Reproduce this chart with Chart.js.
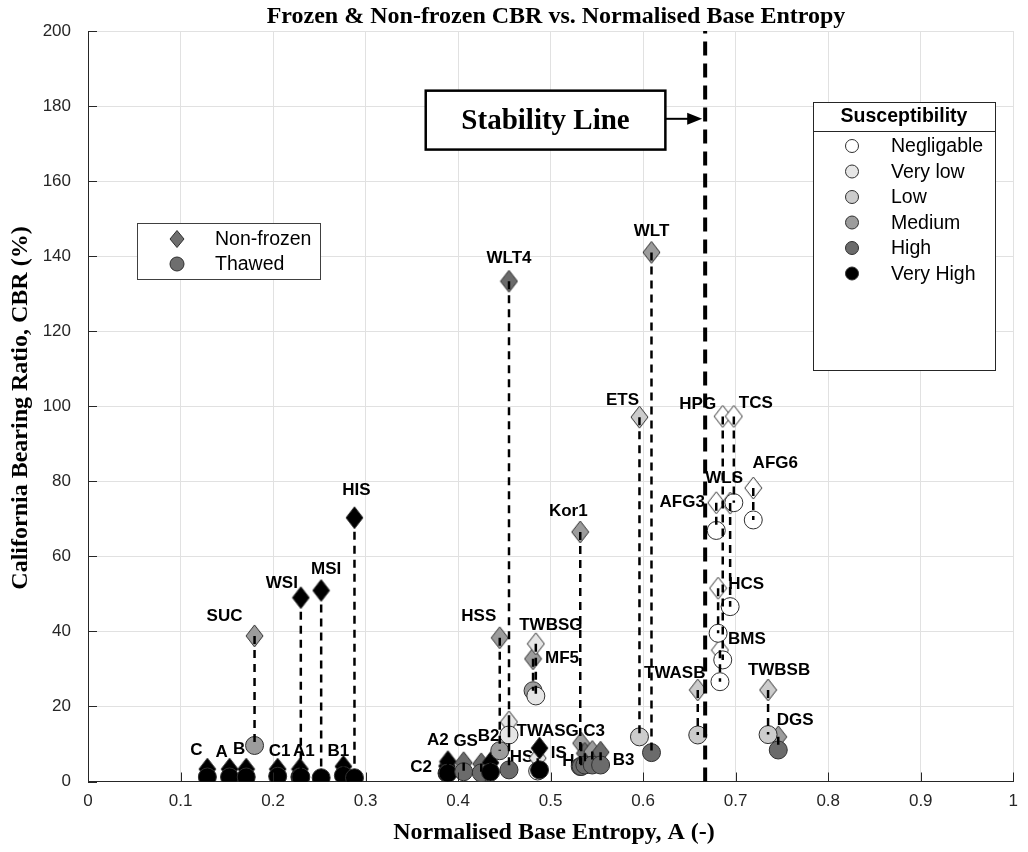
<!DOCTYPE html>
<html>
<head>
<meta charset="utf-8">
<title>Frozen & Non-frozen CBR vs. Normalised Base Entropy</title>
<script src="https://cdn.jsdelivr.net/npm/chart.js@4.4.0/dist/chart.umd.min.js"></script>
<style>
  html, body { margin: 0; padding: 0; background: #fff; }
  #wrap { width: 1028px; height: 852px; }
</style>
</head>
<body>
<div id="wrap"><canvas id="chart" width="1028" height="852"></canvas></div>
<script>
// sample names ("" = label hidden in the original)
const samples = ["C", "A", "B", "SUC", "C1", "A1", "WSI", "MSI", "B1", "HIS",
  "C2", "A2", "GS", "", "B2", "HSS", "", "WLT4", "MF5", "TWBSG", "TWASG", "HS",
  "Kor1", "C3", "IS", "H", "B3", "ETS", "WLT", "TWASB",
  "AFG3", "HCS", "BMS", "HPG", "WLS", "TCS", "AFG6", "TWBSB", "DGS"];
// normalised base entropy A (-)
const entropy = [0.129, 0.153, 0.171, 0.180, 0.205, 0.229, 0.230, 0.252, 0.276, 0.288,
  0.388, 0.389, 0.406, 0.425, 0.435, 0.445, 0.455, 0.455, 0.481, 0.484, 0.486, 0.488,
  0.532, 0.533, 0.537, 0.545, 0.554, 0.596, 0.609, 0.659,
  0.679, 0.681, 0.683, 0.686, 0.694, 0.698, 0.719, 0.735, 0.746];
// CBR (%) non-frozen (diamonds)
const cbrNonFrozen = [3.3, 3.3, 3.3, 38.8, 3.3, 3.3, 49.0, 50.9, 4.0, 70.3,
  4.1, 5.3, 5.0, 4.7, 5.0, 38.3, 15.9, 133.3, 32.7, 36.7, 6.2, 8.9,
  66.5, 10.2, 7.5, 8.0, 7.8, 97.1, 141.0, 24.4,
  74.3, 51.5, 35.0, 97.3, 74.2, 97.3, 78.2, 24.4, 11.9];
// CBR (%) thawed (circles)
const cbrThawed = [1.2, 1.2, 1.2, 9.6, 1.4, 1.2, 1.2, 1.0, 1.6, 1.0,
  2.2, 2.2, 2.6, 2.3, 2.5, 8.2, 12.4, 3.1, 24.2, 22.8, 2.8, 3.1,
  4.0, 4.0, 4.4, 4.4, 4.4, 11.9, 7.7, 12.4,
  66.9, 39.5, 26.6, 32.4, 46.6, 74.3, 69.7, 12.5, 8.4];
// susceptibility class: 0 Negligable .. 5 Very High
const classNonFrozen = [5, 5, 5, 3, 5, 5, 5, 5, 5, 5,
  5, 5, 4, 4, 5, 3, 1, 4, 3, 1, 1, 5,
  3, 3, 4, 3, 4, 2, 3, 2,
  0, 0, 0, 0, 0, 0, 0, 2, 3];
const classThawed = [5, 5, 5, 3, 5, 5, 5, 5, 5, 5,
  5, 5, 4, 4, 5, 3, 1, 4, 3, 1, 1, 5,
  4, 4, 4, 4, 4, 2, 4, 2,
  0, 0, 0, 0, 0, 0, 0, 2, 4];
const susceptibility = ["Negligable", "Very low", "Low", "Medium", "High", "Very High"];
const stabilityA = 0.667;

// text offsets (px) of each sample name from its diamond
const labelShift = [[-11, -19], [-8, -17], [-7, -20], [-30, -20], [2, -18], [4, -18], [-19, -14], [5, -21], [-5, -15], [2, -27],
  [-26, 1], [-10, -21], [2, -21], [0, 0], [-2, -26], [-21, -21], [0, 0], [0, -23], [29, 0], [15, -18], [10, -27], [-18, 9],
  [-12, -21], [13, -12], [-26, 0], [-24, 10], [23, 8], [-17, -17], [0, -21], [-23, -17],
  [-34, 0], [28, -4], [27, -11], [-25, -12], [-6, -25], [22, -13], [22, -25], [11, -20], [17, -17]];

const palette = ['#ffffff', '#e6e6e6', '#cccccc', '#9c9c9c', '#6b6b6b', '#000000'];
const edge = '#2f2f2f';
const sans = '"Liberation Sans", Arial, sans-serif';
const serif = '"Liberation Serif", "Times New Roman", serif';

function diamondImage(fill, w, h) {
  const c = document.createElement('canvas');
  c.width = w + 2;
  c.height = h + 2;
  const g = c.getContext('2d');
  g.beginPath();
  g.moveTo(c.width / 2, 1);
  g.lineTo(c.width - 1, c.height / 2);
  g.lineTo(c.width / 2, c.height - 1);
  g.lineTo(1, c.height / 2);
  g.closePath();
  g.fillStyle = fill;
  g.fill();
  g.lineWidth = 1;
  g.strokeStyle = edge;
  g.stroke();
  return c;
}
const diamonds = palette.map(p => diamondImage(p, 17, 22));

const diamondPts = samples.map((s, i) => ({ x: entropy[i], y: cbrNonFrozen[i] }));
const circlePts = samples.map((s, i) => ({ x: entropy[i], y: cbrThawed[i] }));
const connectorPts = [];
samples.forEach((s, i) => {
  connectorPts.push({ x: entropy[i], y: cbrNonFrozen[i] }, { x: entropy[i], y: cbrThawed[i] }, { x: entropy[i], y: null });
});

function drawDiamond(ctx, cx, cy, w, h, fill) {
  ctx.beginPath();
  ctx.moveTo(cx, cy - h / 2);
  ctx.lineTo(cx + w / 2, cy);
  ctx.lineTo(cx, cy + h / 2);
  ctx.lineTo(cx - w / 2, cy);
  ctx.closePath();
  ctx.fillStyle = fill;
  ctx.fill();
  ctx.strokeStyle = edge;
  ctx.lineWidth = 1;
  ctx.stroke();
}

function drawCircle(ctx, cx, cy, r, fill) {
  ctx.beginPath();
  ctx.arc(cx, cy, r, 0, Math.PI * 2);
  ctx.fillStyle = fill;
  ctx.fill();
  ctx.strokeStyle = edge;
  ctx.lineWidth = 1;
  ctx.stroke();
}

const sampleLabels = {
  id: 'sampleLabels',
  beforeDatasetsDraw(chart) {
    const { ctx, scales: { x, y } } = chart;
    ctx.save();
    ctx.font = 'bold 17px ' + sans;
    ctx.fillStyle = '#000';
    ctx.textAlign = 'center';
    ctx.textBaseline = 'middle';
    samples.forEach((s, i) => {
      if (!s) return;
      ctx.fillText(s, x.getPixelForValue(entropy[i]) + labelShift[i][0],
        y.getPixelForValue(cbrNonFrozen[i]) + labelShift[i][1]);
    });
    ctx.restore();
  }
};

const decorations = {
  id: 'decorations',
  afterDraw(chart) {
    const { ctx, chartArea: area, scales: { x, y } } = chart;
    ctx.save();

    // inward ticks
    ctx.strokeStyle = '#262626';
    ctx.lineWidth = 1;
    ctx.beginPath();
    x.ticks.forEach(t => {
      const px = Math.round(x.getPixelForValue(t.value)) + 0.5;
      ctx.moveTo(px, area.bottom);
      ctx.lineTo(px, area.bottom - 9);
    });
    y.ticks.forEach(t => {
      const py = Math.round(y.getPixelForValue(t.value)) + 0.5;
      ctx.moveTo(area.left, py);
      ctx.lineTo(area.left + 9, py);
    });
    ctx.stroke();

    // stability line callout
    const bx0 = x.getPixelForValue(0.365), bx1 = x.getPixelForValue(0.624);
    const by0 = y.getPixelForValue(184.1), by1 = y.getPixelForValue(168.4);
    ctx.fillStyle = '#fff';
    ctx.fillRect(bx0, by0, bx1 - bx0, by1 - by0);
    ctx.strokeStyle = '#000';
    ctx.lineWidth = 2.5;
    ctx.strokeRect(bx0, by0, bx1 - bx0, by1 - by0);
    ctx.fillStyle = '#000';
    ctx.font = 'bold 29px ' + serif;
    ctx.textAlign = 'center';
    ctx.textBaseline = 'middle';
    ctx.fillText('Stability Line', (bx0 + bx1) / 2, (by0 + by1) / 2 + 1);
    const ay = y.getPixelForValue(176.6);
    const tip = x.getPixelForValue(stabilityA) - 3;
    ctx.lineWidth = 2;
    ctx.beginPath();
    ctx.moveTo(bx1, ay);
    ctx.lineTo(tip - 12, ay);
    ctx.stroke();
    ctx.beginPath();
    ctx.moveTo(tip, ay);
    ctx.lineTo(tip - 15, ay - 6);
    ctx.lineTo(tip - 15, ay + 6);
    ctx.closePath();
    ctx.fill();

    // marker-type legend
    ctx.fillStyle = '#fff';
    ctx.fillRect(137, 223, 184, 56);
    ctx.strokeStyle = '#404040';
    ctx.lineWidth = 1;
    ctx.strokeRect(137.5, 223.5, 183, 56);
    drawDiamond(ctx, 177, 239, 14, 17, '#6e6e6e');
    drawCircle(ctx, 177, 264, 7, '#6e6e6e');
    ctx.fillStyle = '#000';
    ctx.font = '19.5px ' + sans;
    ctx.textAlign = 'left';
    ctx.fillText('Non-frozen', 215, 240);
    ctx.fillText('Thawed', 215, 265);

    // susceptibility legend
    ctx.fillStyle = '#fff';
    ctx.fillRect(813, 102, 182, 268);
    ctx.strokeStyle = '#262626';
    ctx.strokeRect(813.5, 102.5, 182, 268);
    ctx.beginPath();
    ctx.moveTo(813.5, 131.5);
    ctx.lineTo(995.5, 131.5);
    ctx.stroke();
    ctx.fillStyle = '#000';
    ctx.font = 'bold 19.5px ' + sans;
    ctx.textAlign = 'center';
    ctx.fillText('Susceptibility', 904, 117);
    ctx.font = '19.5px ' + sans;
    ctx.textAlign = 'left';
    susceptibility.forEach((name, i) => {
      const ly = 146 + i * 25.5;
      drawCircle(ctx, 852, ly, 6.5, palette[i]);
      ctx.fillStyle = '#000';
      ctx.fillText(name, 891, ly + 1);
    });

    // title and axis titles
    ctx.fillStyle = '#000';
    ctx.textAlign = 'center';
    ctx.font = 'bold 24px ' + serif;
    ctx.fillText('Frozen & Non-frozen CBR vs. Normalised Base Entropy', 556, 17);
    ctx.fillText('Normalised Base Entropy, A (-)', 554, 833);
    ctx.translate(21, 408);
    ctx.rotate(-Math.PI / 2);
    ctx.fillText('California Bearing Ratio, CBR (%)', 0, 0);
    ctx.restore();
  }
};

new Chart(document.getElementById('chart'), {
  type: 'scatter',
  data: {
    datasets: [
      {
        label: 'Stability line',
        data: [{ x: stabilityA, y: 0 }, { x: stabilityA, y: 200 }],
        showLine: true,
        borderColor: '#000',
        borderWidth: 4,
        borderDash: [14, 8],
        pointRadius: 0,
        order: 0
      },
      {
        label: 'Connectors',
        data: connectorPts,
        showLine: true,
        spanGaps: false,
        borderColor: '#000',
        borderWidth: 2.5,
        borderDash: [8, 6],
        pointRadius: 0,
        order: 1
      },
      {
        label: 'Thawed',
        data: circlePts,
        pointStyle: 'circle',
        pointRadius: 9,
        pointBorderWidth: 1,
        pointBorderColor: edge,
        pointBackgroundColor: classThawed.map(c => palette[c]),
        order: 2
      },
      {
        label: 'Non-frozen',
        data: diamondPts,
        pointStyle: ctx => diamonds[classNonFrozen[ctx.dataIndex]],
        pointRadius: 11,
        order: 3
      }
    ]
  },
  options: {
    responsive: false,
    animation: false,
    devicePixelRatio: 1,
    events: [],
    layout: { padding: { top: 31, right: 9, left: 0, bottom: 0 } },
    plugins: {
      legend: { display: false },
      tooltip: { enabled: false },
      title: { display: false }
    },
    scales: {
      x: {
        type: 'linear',
        min: 0,
        max: 1,
        afterFit(s) { s.height = 70.5; },
        grid: { color: '#e1e1e1', drawTicks: false },
        border: { display: true, color: '#262626', width: 1 },
        ticks: {
          stepSize: 0.1,
          autoSkip: false,
          maxRotation: 0,
          padding: 10,
          color: '#262626',
          font: { family: sans, size: 17 },
          callback: v => (v === 0 ? '0' : v === 1 ? '1' : v.toFixed(1))
        }
      },
      y: {
        min: 0,
        max: 200,
        afterFit(s) { s.width = 88; },
        grid: { color: '#e1e1e1', drawTicks: false },
        border: { display: true, color: '#262626', width: 1 },
        ticks: {
          stepSize: 20,
          padding: 17,
          color: '#262626',
          font: { family: sans, size: 17 }
        }
      }
    }
  },
  plugins: [sampleLabels, decorations]
});
</script>
</body>
</html>
